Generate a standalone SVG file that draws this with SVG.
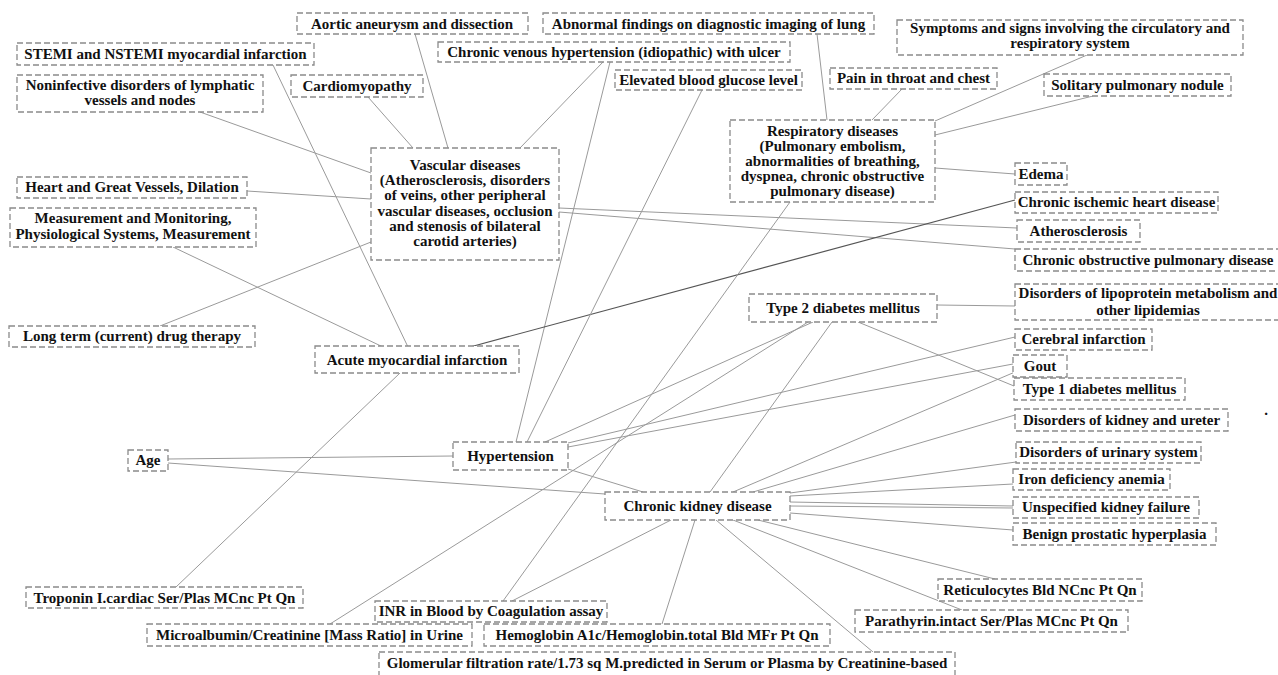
<svg xmlns="http://www.w3.org/2000/svg" width="1278" height="675" viewBox="0 0 1278 675">
  <style>
    .edge { stroke: #9a9a9a; stroke-width: 1; fill: none; }
    .edge.strong { stroke: #555; stroke-width: 1.2; }
    .box { fill: #fff; stroke: #8a8a8a; stroke-width: 1.3; stroke-dasharray: 6 3; }
    .lbl { font-family: "Liberation Serif", "Times New Roman", serif; font-weight: bold; font-size: 15px; fill: #111; text-anchor: middle; }
  </style>
  <rect width="1278" height="675" fill="#fff"/>

  <g id="connectors">
    <line class="edge" x1="415" y1="34" x2="448" y2="148"/>
    <line class="edge" x1="368" y1="97" x2="413" y2="148"/>
    <line class="edge" x1="603" y1="62" x2="520" y2="148"/>
    <line class="edge" x1="610" y1="62" x2="516" y2="442"/>
    <line class="edge" x1="200" y1="112" x2="371" y2="173"/>
    <line class="edge" x1="247" y1="191" x2="371" y2="199"/>
    <line class="edge" x1="160" y1="326" x2="371" y2="242"/>
    <line class="edge" x1="559" y1="208" x2="1017" y2="228"/>
    <line class="edge" x1="559" y1="212" x2="1015" y2="249"/>
    <line class="edge" x1="273" y1="65" x2="408" y2="347"/>
    <line class="edge" x1="173" y1="247" x2="383" y2="347"/>
    <line class="edge strong" x1="470" y1="347" x2="1015" y2="200"/>
    <line class="edge" x1="400" y1="373" x2="176" y2="587"/>
    <line class="edge" x1="702" y1="90" x2="527" y2="442"/>
    <line class="edge" x1="817" y1="34" x2="827" y2="120"/>
    <line class="edge" x1="902" y1="89" x2="872" y2="120"/>
    <line class="edge" x1="1087" y1="55" x2="935" y2="121"/>
    <line class="edge" x1="1093" y1="96" x2="935" y2="135"/>
    <line class="edge" x1="935" y1="168" x2="1015" y2="174"/>
    <line class="edge" x1="790" y1="202" x2="503" y2="601"/>
    <line class="edge" x1="168" y1="459" x2="453" y2="456"/>
    <line class="edge" x1="168" y1="463" x2="605" y2="494"/>
    <line class="edge" x1="545" y1="442" x2="813" y2="322"/>
    <line class="edge" x1="568" y1="443" x2="1015" y2="337"/>
    <line class="edge" x1="568" y1="447" x2="1013" y2="364"/>
    <line class="edge" x1="568" y1="469" x2="643" y2="492"/>
    <line class="edge" x1="937" y1="305" x2="1015" y2="306"/>
    <line class="edge" x1="858" y1="322" x2="1014" y2="386"/>
    <line class="edge" x1="832" y1="322" x2="710" y2="492"/>
    <line class="edge" x1="808" y1="322" x2="330" y2="624"/>
    <line class="edge" x1="733" y1="492" x2="1015" y2="372"/>
    <line class="edge" x1="753" y1="492" x2="1015" y2="415"/>
    <line class="edge" x1="790" y1="493" x2="1016" y2="462"/>
    <line class="edge" x1="790" y1="496" x2="1013" y2="484"/>
    <line class="edge" x1="790" y1="502" x2="1013" y2="506"/>
    <line class="edge" x1="790" y1="506" x2="1013" y2="508"/>
    <line class="edge" x1="790" y1="513" x2="1013" y2="530"/>
    <line class="edge" x1="758" y1="520" x2="995" y2="579"/>
    <line class="edge" x1="733" y1="520" x2="962" y2="610"/>
    <line class="edge" x1="716" y1="520" x2="873" y2="652"/>
    <line class="edge" x1="695" y1="520" x2="662" y2="624"/>
    <line class="edge" x1="671" y1="520" x2="512" y2="601"/>
  </g>

  <g id="n_aortic"><rect class="box" x="297" y="13" width="231" height="21"/><text class="lbl" x="412" y="28.5">Aortic aneurysm and dissection</text></g>
  <g id="n_abnormal"><rect class="box" x="543" y="13" width="331" height="21"/><text class="lbl" x="708.5" y="28.5">Abnormal findings on diagnostic imaging of lung</text></g>
  <g id="n_symptoms"><rect class="box" x="897" y="20" width="346" height="35"/><text class="lbl" x="1070" y="33">Symptoms and signs involving the circulatory and</text><text class="lbl" x="1070" y="48">respiratory system</text></g>
  <g id="n_stemi"><rect class="box" x="17" y="43" width="297" height="22"/><text class="lbl" x="165.5" y="59">STEMI and NSTEMI myocardial infarction</text></g>
  <g id="n_venous"><rect class="box" x="438" y="42" width="352" height="20"/><text class="lbl" x="614" y="57">Chronic venous hypertension (idiopathic) with ulcer</text></g>
  <g id="n_lymph"><rect class="box" x="17" y="75" width="246" height="37"/><text class="lbl" x="140" y="90">Noninfective disorders of lymphatic</text><text class="lbl" x="140" y="105">vessels and nodes</text></g>
  <g id="n_cardio"><rect class="box" x="291" y="75" width="132" height="22"/><text class="lbl" x="357" y="91">Cardiomyopathy</text></g>
  <g id="n_glucose"><rect class="box" x="615" y="70" width="187" height="20"/><text class="lbl" x="708.5" y="84.5">Elevated blood glucose level</text></g>
  <g id="n_pain"><rect class="box" x="830" y="68" width="167" height="21"/><text class="lbl" x="913.5" y="83">Pain in throat and chest</text></g>
  <g id="n_solitary"><rect class="box" x="1044" y="74" width="187" height="22"/><text class="lbl" x="1137.5" y="90">Solitary pulmonary nodule</text></g>

  <g id="n_vascular">
    <rect class="box" x="371" y="148" width="188" height="112"/>
    <text class="lbl" x="465" y="170">Vascular diseases</text>
    <text class="lbl" x="465" y="185.2">(Atherosclerosis, disorders</text>
    <text class="lbl" x="465" y="200.4">of veins, other peripheral</text>
    <text class="lbl" x="465" y="215.6">vascular diseases, occlusion</text>
    <text class="lbl" x="465" y="230.8">and stenosis of bilateral</text>
    <text class="lbl" x="465" y="246">carotid arteries)</text>
  </g>
  <g id="n_respiratory">
    <rect class="box" x="730" y="120" width="205" height="82"/>
    <text class="lbl" x="832.5" y="136">Respiratory diseases</text>
    <text class="lbl" x="832.5" y="151">(Pulmonary embolism,</text>
    <text class="lbl" x="832.5" y="166">abnormalities of breathing,</text>
    <text class="lbl" x="832.5" y="181">dyspnea, chronic obstructive</text>
    <text class="lbl" x="832.5" y="196">pulmonary disease)</text>
  </g>

  <g id="n_edema"><rect class="box" x="1015" y="163" width="52" height="22"/><text class="lbl" x="1041" y="179">Edema</text></g>
  <g id="n_cihd"><rect class="box" x="1015" y="192" width="203" height="21"/><text class="lbl" x="1116.5" y="207">Chronic ischemic heart disease</text></g>
  <g id="n_athero"><rect class="box" x="1017" y="220" width="123" height="22"/><text class="lbl" x="1078.5" y="236">Atherosclerosis</text></g>
  <g id="n_copd"><rect class="box" x="1015" y="249" width="272" height="22"/><text class="lbl" x="1148" y="265">Chronic obstructive pulmonary disease</text></g>
  <g id="n_heart"><rect class="box" x="17" y="177" width="230" height="21"/><text class="lbl" x="132" y="192">Heart and Great Vessels, Dilation</text></g>
  <g id="n_measure"><rect class="box" x="10" y="208" width="246" height="39"/><text class="lbl" x="133" y="223">Measurement and Monitoring,</text><text class="lbl" x="133" y="239">Physiological Systems, Measurement</text></g>
  <g id="n_longterm"><rect class="box" x="9" y="326" width="246" height="21"/><text class="lbl" x="132" y="341">Long term (current) drug therapy</text></g>
  <g id="n_acute"><rect class="box" x="315" y="346" width="204" height="27"/><text class="lbl" x="417" y="364.5">Acute myocardial infarction</text></g>
  <g id="n_lipo"><rect class="box" x="1015" y="284" width="272" height="36"/><text class="lbl" x="1148" y="298">Disorders of lipoprotein metabolism and</text><text class="lbl" x="1148" y="315">other lipidemias</text></g>
  <g id="n_type2"><rect class="box" x="749" y="294" width="188" height="28"/><text class="lbl" x="843" y="313">Type 2 diabetes mellitus</text></g>
  <g id="n_cerebral"><rect class="box" x="1015" y="329" width="137" height="21"/><text class="lbl" x="1083.5" y="344">Cerebral infarction</text></g>
  <g id="n_gout"><rect class="box" x="1013" y="355" width="54" height="22"/><text class="lbl" x="1040" y="371">Gout</text></g>
  <g id="n_type1"><rect class="box" x="1014" y="378" width="171" height="22"/><text class="lbl" x="1099.5" y="394">Type 1 diabetes mellitus</text></g>
  <g id="n_kidney"><rect class="box" x="1015" y="409" width="213" height="22"/><text class="lbl" x="1121.5" y="425">Disorders of kidney and ureter</text></g>
  <g id="n_urinary"><rect class="box" x="1016" y="442" width="185" height="21"/><text class="lbl" x="1108.5" y="457">Disorders of urinary system</text></g>
  <g id="n_iron"><rect class="box" x="1013" y="469" width="157" height="21"/><text class="lbl" x="1091.5" y="484">Iron deficiency anemia</text></g>
  <g id="n_unspec"><rect class="box" x="1013" y="497" width="186" height="21"/><text class="lbl" x="1106" y="512">Unspecified kidney failure</text></g>
  <g id="n_benign"><rect class="box" x="1013" y="523" width="203" height="22"/><text class="lbl" x="1114.5" y="539">Benign prostatic hyperplasia</text></g>
  <g id="n_retic"><rect class="box" x="938" y="579" width="204" height="22"/><text class="lbl" x="1040" y="595">Reticulocytes Bld NCnc Pt Qn</text></g>
  <g id="n_parath"><rect class="box" x="855" y="610" width="273" height="22"/><text class="lbl" x="991.5" y="626">Parathyrin.intact Ser/Plas MCnc Pt Qn</text></g>
  <g id="n_troponin"><rect class="box" x="26" y="587" width="277" height="21"/><text class="lbl" x="164.5" y="603">Troponin I.cardiac Ser/Plas MCnc Pt Qn</text></g>
  <g id="n_inr"><rect class="box" x="375" y="601" width="232" height="21"/><text class="lbl" x="491" y="616">INR in Blood by Coagulation assay</text></g>
  <g id="n_microalb"><rect class="box" x="147" y="624" width="325" height="22"/><text class="lbl" x="309.5" y="640">Microalbumin/Creatinine [Mass Ratio] in Urine</text></g>
  <g id="n_hba1c"><rect class="box" x="484" y="624" width="346" height="22"/><text class="lbl" x="657" y="640">Hemoglobin A1c/Hemoglobin.total Bld MFr Pt Qn</text></g>
  <g id="n_gfr"><rect class="box" x="379" y="652" width="576" height="26"/><text class="lbl" x="667" y="668">Glomerular filtration rate/1.73 sq M.predicted in Serum or Plasma by Creatinine-based</text></g>
  <g id="n_age"><rect class="box" x="128" y="450" width="40" height="21"/><text class="lbl" x="148" y="465">Age</text></g>
  <g id="n_hypertension"><rect class="box" x="453" y="442" width="115" height="28"/><text class="lbl" x="510.5" y="461">Hypertension</text></g>
  <g id="n_ckd"><rect class="box" x="605" y="492" width="185" height="28"/><text class="lbl" x="697.5" y="511">Chronic kidney disease</text></g>

  <text class="lbl" x="1266" y="415">.</text>
</svg>
